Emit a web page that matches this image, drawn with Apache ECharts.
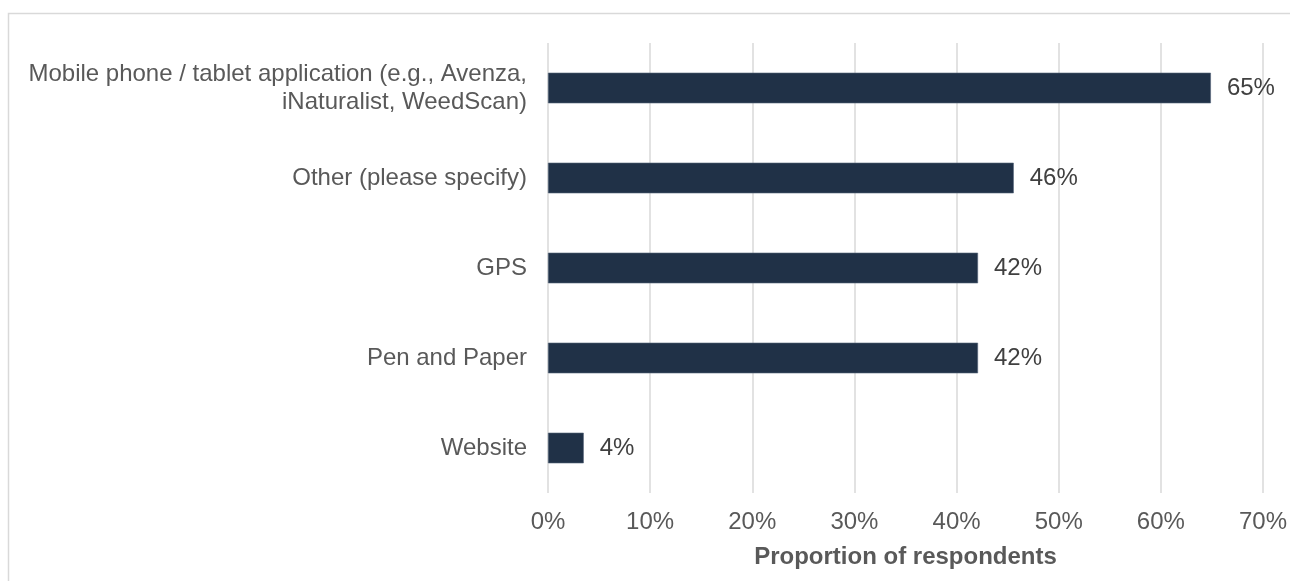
<!DOCTYPE html>
<html>
<head>
<meta charset="utf-8">
<style>
  html, body { margin: 0; padding: 0; background: #ffffff; }
  #chart { width: 1290px; height: 581px; }
</style>
<script src="https://cdn.jsdelivr.net/npm/echarts@6/dist/echarts.min.js"></script>
</head>
<body>
<div id="chart"></div>
<script>
// Survey categories, listed bottom to top as drawn on the category axis
const categories = [
  'Website',
  'Pen and Paper',
  'GPS',
  'Other (please specify)',
  'Mobile phone / tablet application (e.g., Avenza,\niNaturalist, WeedScan)'
];
// Share of respondents (%) for each category
const shares = [3.5, 42.1, 42.1, 45.6, 64.9];
// Value axis tick values (%)
const xTicks = [0, 10, 20, 30, 40, 50, 60, 70];
const axisTitle = 'Proportion of respondents';

const chart = echarts.init(document.getElementById('chart'), null, { renderer: 'canvas' });

const font = 'Liberation Sans, Arial, sans-serif';

chart.setOption({
  animation: false,
  backgroundColor: '#ffffff',
  graphic: [{
    type: 'rect',
    shape: { x: 8.5, y: 13.5, width: 1300, height: 600 },
    style: { fill: 'none', stroke: '#d9d9d9', lineWidth: 1.5 },
    silent: true
  }],
  grid: { left: 548, right: 27, top: 43, bottom: 88, containLabel: false },
  xAxis: {
    type: 'value',
    min: xTicks[0],
    max: xTicks[xTicks.length - 1],
    interval: xTicks[1] - xTicks[0],
    name: axisTitle,
    nameLocation: 'middle',
    nameGap: 52,
    nameTextStyle: { fontFamily: font, fontSize: 24, fontWeight: 'bold', color: '#595959' },
    axisLine: { show: false },
    axisTick: { show: false },
    axisLabel: {
      fontFamily: font, fontSize: 24, color: '#595959', margin: 17,
      formatter: v => v + '%'
    },
    splitLine: { show: true, lineStyle: { color: '#d9d9d9', width: 1.5 } }
  },
  yAxis: {
    type: 'category',
    data: categories,
    axisLine: { show: false },
    axisTick: { show: false },
    axisLabel: {
      fontFamily: font, fontSize: 24, color: '#595959', margin: 21,
      lineHeight: 28, align: 'right'
    },
    splitLine: { show: false }
  },
  series: [{
    type: 'bar',
    data: shares,
    barWidth: '34%',
    itemStyle: { color: '#203147', borderColor: '#56657a', borderWidth: 0.6 },
    label: {
      show: true,
      position: 'right',
      distance: 16,
      fontFamily: font,
      fontSize: 24,
      color: '#404040',
      formatter: p => Math.round(p.value) + '%'
    }
  }]
});
</script>
</body>
</html>
